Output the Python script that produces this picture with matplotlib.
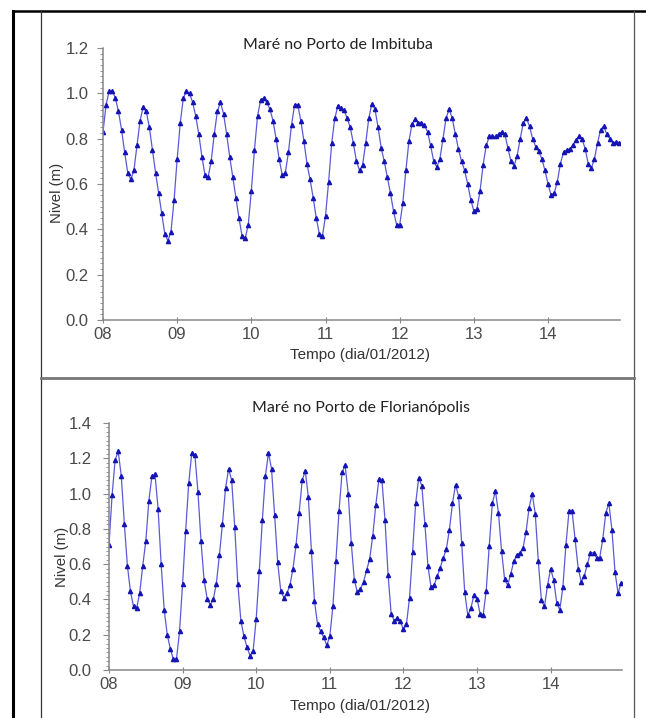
import numpy as np
import matplotlib
matplotlib.use("Agg")
from matplotlib import pyplot as plt
from matplotlib.ticker import MultipleLocator, FuncFormatter
from matplotlib.lines import Line2D

# hourly tide level (m), 08/01/2012 00h .. 14/01/2012 23h
imbituba = [
    0.83, 0.95, 1.01, 1.01, 0.98, 0.92, 0.84, 0.74, 0.65, 0.62, 0.66, 0.77,
    0.88, 0.94, 0.92, 0.85, 0.75, 0.65, 0.56, 0.47, 0.38, 0.35, 0.39, 0.53,
    0.71, 0.87, 0.98, 1.01, 1.00, 0.96, 0.90, 0.82, 0.72, 0.64, 0.63, 0.70,
    0.82, 0.92, 0.96, 0.91, 0.82, 0.72, 0.63, 0.54, 0.45, 0.37, 0.36, 0.42,
    0.57, 0.75, 0.90, 0.97, 0.98, 0.96, 0.93, 0.88, 0.80, 0.71, 0.64, 0.65,
    0.74, 0.86, 0.95, 0.95, 0.88, 0.79, 0.69, 0.62, 0.54, 0.45, 0.38, 0.37,
    0.46, 0.61, 0.78, 0.89, 0.945, 0.935, 0.925, 0.89, 0.85, 0.78, 0.70, 0.66,
    0.685, 0.78, 0.89, 0.955, 0.93, 0.85, 0.76, 0.70, 0.63, 0.56, 0.48, 0.42,
    0.42, 0.515, 0.66, 0.79, 0.865, 0.885, 0.87, 0.87, 0.86, 0.83, 0.77, 0.70,
    0.675, 0.71, 0.80, 0.89, 0.93, 0.89, 0.82, 0.755, 0.70, 0.66, 0.60, 0.53,
    0.48, 0.49, 0.57, 0.685, 0.77, 0.81, 0.81, 0.81, 0.82, 0.83, 0.82, 0.76,
    0.70, 0.68, 0.725, 0.80, 0.87, 0.89, 0.855, 0.80, 0.765, 0.745, 0.71, 0.66,
    0.60, 0.55, 0.56, 0.61, 0.69, 0.74, 0.75, 0.755, 0.77, 0.795, 0.81, 0.80,
    0.755, 0.69, 0.67, 0.71, 0.78, 0.84, 0.855, 0.82, 0.80, 0.78, 0.785, 0.78,
]
florianopolis = [
    0.71, 0.99, 1.19, 1.24, 1.10, 0.83, 0.59, 0.445, 0.36, 0.35, 0.435, 0.59,
    0.73, 0.96, 1.10, 1.11, 0.915, 0.60, 0.34, 0.20, 0.12, 0.06, 0.06, 0.22,
    0.49, 0.79, 1.06, 1.23, 1.22, 1.01, 0.73, 0.51, 0.405, 0.37, 0.40, 0.49,
    0.65, 0.83, 1.03, 1.14, 1.075, 0.81, 0.49, 0.28, 0.19, 0.13, 0.08, 0.11,
    0.29, 0.56, 0.85, 1.10, 1.23, 1.14, 0.88, 0.61, 0.45, 0.41, 0.435, 0.48,
    0.575, 0.71, 0.89, 1.075, 1.13, 0.98, 0.675, 0.39, 0.26, 0.22, 0.185, 0.14,
    0.19, 0.36, 0.62, 0.90, 1.12, 1.16, 1.00, 0.72, 0.51, 0.44, 0.46, 0.50,
    0.565, 0.63, 0.76, 0.935, 1.08, 1.075, 0.85, 0.54, 0.32, 0.28, 0.295, 0.275,
    0.23, 0.26, 0.41, 0.67, 0.945, 1.09, 1.045, 0.83, 0.59, 0.47, 0.48, 0.53,
    0.58, 0.635, 0.685, 0.795, 0.945, 1.05, 0.985, 0.72, 0.44, 0.31, 0.35, 0.425,
    0.405, 0.32, 0.31, 0.45, 0.705, 0.945, 1.015, 0.89, 0.675, 0.515, 0.48, 0.545,
    0.615, 0.65, 0.665, 0.69, 0.785, 0.92, 1.00, 0.885, 0.615, 0.395, 0.36, 0.48,
    0.575, 0.51, 0.38, 0.34, 0.47, 0.71, 0.90, 0.90, 0.74, 0.575, 0.50, 0.535,
    0.60, 0.665, 0.665, 0.635, 0.635, 0.74, 0.89, 0.945, 0.795, 0.555, 0.435, 0.495,
]
first_day = 8
days = [8, 9, 10, 11, 12, 13, 14]
t = first_day + np.arange(len(imbituba)) / 24.0

W, H = 646, 718
fig = plt.figure(figsize=(W / 100, H / 100), dpi=100)

def fx(px):
    return px / W

def fy(py):
    return 1 - py / H

# page frame
fig.add_artist(Line2D([fx(13), fx(13)], [fy(11), 0], color="black", lw=2.2))
fig.add_artist(Line2D([fx(13), 1], [fy(11), fy(11)], color="black", lw=1.8))
fig.add_artist(Line2D([fx(41), fx(41)], [fy(11), 0], color="#333333", lw=0.9))
fig.add_artist(Line2D([fx(634), fx(634)], [fy(11), 0], color="#555555", lw=0.9))
fig.add_artist(Line2D([fx(41), fx(634)], [fy(378), fy(378)], color="#777777", lw=2))

tick_color = "#4a4a4a"

def panel(rect, values, ymax, title, title_xy, ylab_xy, xlab_y, ypad):
    ax = fig.add_axes(rect)
    ax.plot(t, values, color="#5a5ad8", lw=0.9, marker="^", markersize=3,
            markerfacecolor="#1414b4", markeredgecolor="#1414b4")
    ax.set_xlim(8, 14.97)
    ax.set_ylim(0, ymax)
    ax.set_xticks(days)
    ax.xaxis.set_major_formatter(FuncFormatter(lambda v, p: "%02d" % v))
    ax.yaxis.set_major_locator(MultipleLocator(0.2))
    ax.yaxis.set_minor_locator(MultipleLocator(0.025))
    ax.yaxis.set_major_formatter(FuncFormatter(lambda v, p: "%.1f" % v))
    for s in ["top", "right"]:
        ax.spines[s].set_visible(False)
    for s in ["left", "bottom"]:
        ax.spines[s].set_color("#888888")
        ax.spines[s].set_linewidth(1.1)
    ax.tick_params(axis="y", which="major", length=4, color="#888888", pad=ypad)
    ax.tick_params(axis="y", which="minor", length=2.5, color="#888888")
    ax.tick_params(axis="x", which="major", direction="inout", length=5,
                   color="#888888", pad=2.5)
    for lab in ax.get_xticklabels() + ax.get_yticklabels():
        lab.set_fontfamily("Liberation Sans")
        lab.set_fontsize(12)
        lab.set_color(tick_color)
    fig.text(fx(title_xy[0]), fy(title_xy[1]), title, ha="center", va="center",
             family="Lato", fontsize=11.5, color="#222222")
    fig.text(fx(ylab_xy[0]), fy(ylab_xy[1]), "Nivel (m)", rotation=90,
             ha="center", va="center", family="Liberation Sans", fontsize=10.8,
             color="#333333")
    fig.text(fx(360), fy(xlab_y), "Tempo (dia/01/2012)", ha="center", va="center",
             family="Liberation Sans", fontsize=11, color="#333333")
    return ax

panel([fx(103), fy(320), fx(620) - fx(103), fy(48) - fy(320)], imbituba, 1.2,
      "Maré no Porto de Imbituba", (338, 45), (57, 193), 355, 6.5)
panel([fx(109), fy(670), fx(622) - fx(109), fy(423) - fy(670)], florianopolis, 1.4,
      "Maré no Porto de Florianópolis", (361, 408), (62, 557), 706, 8.5)

fig.savefig("out.png", dpi=100)
